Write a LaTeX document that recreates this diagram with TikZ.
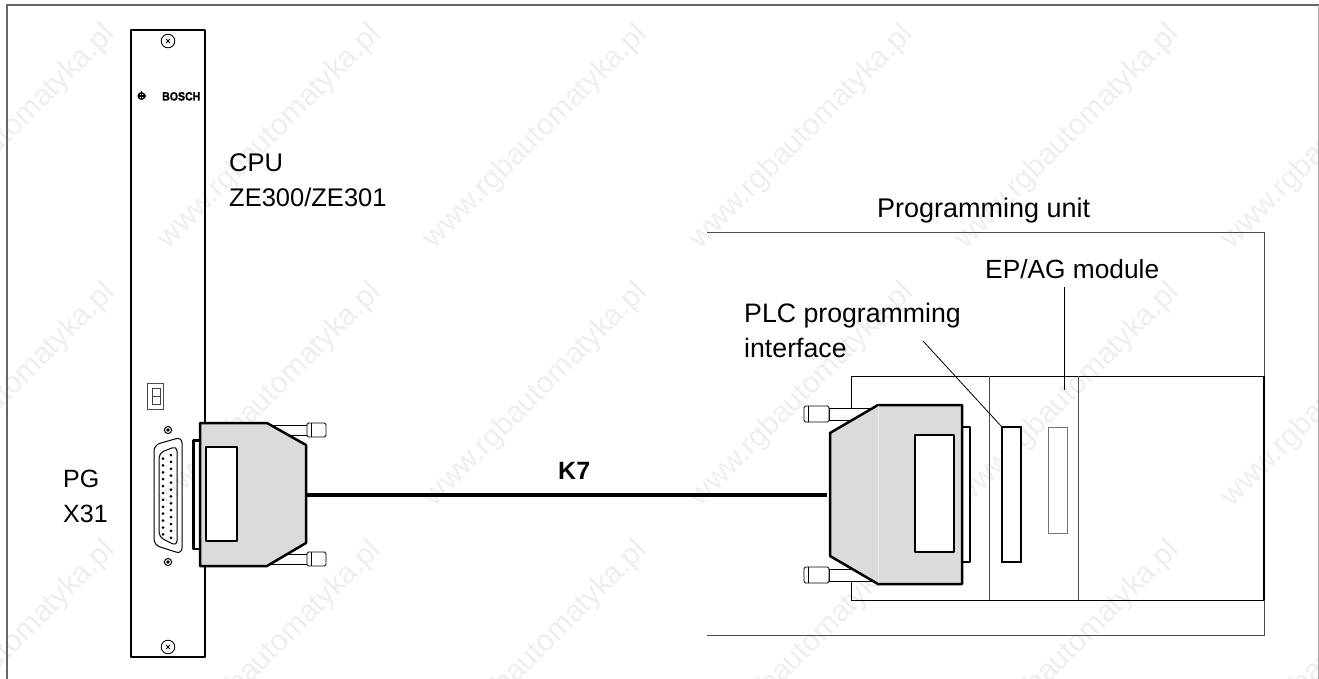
\documentclass[tikz,border=0pt]{standalone}
\usepackage{fontspec}
\setmainfont{Liberation Sans}
\newfontfamily\boschfont[FakeBold=1.5]{Liberation Sans Bold}
\usepackage{xcolor}
\usetikzlibrary{positioning}
\definecolor{shellgray}{gray}{.86}
\definecolor{markgray}{gray}{.935}
\tikzset{
  lbl/.style={font=\fontsize{#1}{35}\selectfont,anchor=base west,inner sep=0pt,align=left},
  lbl/.default=26,
  mark text/.style={font=\fontsize{30}{30}\selectfont,text=markgray,rotate=45,inner sep=0pt},
  heavy/.style={line width=2.5pt,line join=round},
  thin gray/.style={line width=1pt,black!70},
  slotbox/.style={draw,fill=white,inner sep=0pt},
  leader/.style={line width=.8pt},
}
\begin{document}
\begin{tikzpicture}[x=1pt,y=-1pt]
\useasboundingbox (0,0) rectangle (1319,679);
\foreach \col in {4,270,536,802,1068,1334}{
  \foreach \row in {137,395,653}{
    \node[mark text] at (\col,\row) {www.rgbautomatyka.pl};
  }
}
% frame
\draw[line width=2pt,black!60] (7,679) -- (7,5) -- (1319,5);
\draw[line width=1pt,black!35] (1318.5,5) -- (1318.5,679);
% CPU panel
\draw[heavy] (131,30) rectangle (205,657);
\foreach \y in {41,647}{
  \draw[line width=.9pt] (168,\y) circle (6.8);
  \draw[line width=1pt] (166,\y-2) -- (170,\y+2) (166,\y+2) -- (170,\y-2);
}
\node[font=\fontsize{12}{12}\boschfont,xscale=.88,anchor=base west,inner sep=0pt] (bosch) at (162,100.5) {BOSCH};
\draw[line width=1.5pt] (141.5,96) circle (3.2);
\draw[line width=1.2pt] (137.5,96) -- (145.5,96) (141.5,91.5) -- (141.5,100.5);
% display
\draw[thin gray] (147.5,383.5) rectangle (163.5,409);
\draw[line width=.8pt,black!75] (152,388) rectangle (160,404) (152,396) -- (160,396);
% sub-D socket
\draw[line width=1pt,rounded corners=6pt] (154,445) -- (182,437) -- (182,554) -- (154,545) -- cycle;
\draw[line width=1pt,rounded corners=5pt] (159,453) -- (177,446) -- (177,546) -- (159,537) -- cycle;
\foreach \n in {0,...,11}{
  \fill (163,458.5+\n*6.9) circle (1.5);
}
\foreach \n in {0,...,12}{
  \fill (171,455+\n*6.9) circle (1.5);
}
\foreach \y in {430,562}{
  \draw[line width=1pt] (168,\y) circle (3.6);
  \fill (168,\y) circle (1.8);
}
% left plug
\foreach \y in {430,559}{
  \draw[line width=.8pt,fill=white] (262,\y-5) rectangle (307,\y+5);
  \draw[line width=.9pt,fill=white,rounded corners=1.5pt] (307,\y-7) rectangle (326,\y+7);
  \draw[line width=.6pt] (311,\y-7) -- (311,\y+7);
}
\draw[heavy,fill=white] (193.5,440.5) rectangle (200,549);
\draw[heavy,fill=shellgray] (200,423) -- (267,423) -- (306,445) -- (306,543) -- (267,566) -- (200,566) -- cycle;
\draw[heavy,fill=white] (206,447) rectangle (237,541);
% programming unit
\draw[thin gray] (707,232) -- (1264,232) -- (1264,635) -- (707,635);
\draw[line width=1pt] (851,600) -- (851,376) -- (1264,376);
\draw[line width=1pt] (851,600) -- (1264,600);
\draw[line width=1.6pt] (1264,376) -- (1264,600);
\draw[thin gray] (989,376) -- (989,600) (1078,376) -- (1078,600);
\node[slotbox,line width=2pt,minimum width=19pt,minimum height=135pt] (plcslot) at (1011.5,494.5) {};
\node[slotbox,draw=black!55,line width=1pt,minimum width=19pt,minimum height=106pt] (epslot) at (1057.5,480) {};
% right plug
\foreach \y in {414,575}{
  \draw[line width=.8pt,fill=white] (829,\y-6) rectangle (880,\y+6);
  \draw[line width=.9pt,fill=white,rounded corners=1.5pt] (804,\y-8) rectangle (829,\y+8);
  \draw[line width=.6pt] (808,\y-8) -- (808,\y+8);
}
\draw[heavy,fill=white] (962,427) rectangle (970,562);
\draw[heavy,fill=shellgray] (830,433) -- (878,405) -- (962,405) -- (962,584) -- (878,584) -- (830,556) -- cycle;
\draw[line width=.5pt,white!92!black] (878,406) -- (878,583);
\draw[heavy,fill=white] (915,435) rectangle (954,552);
% cable
\coordinate (cableleft) at (306,495);
\coordinate (cableright) at (827,495);
\draw[line width=3.4pt] (cableleft) -- (cableright);
% labels
\node[lbl=25.5] (cpulabel) at (229,207) {CPU\\ZE300/ZE301};
\node[lbl=25] (pglabel) at (63,522) {PG\\X31};
\node[lbl,font=\fontsize{25}{35}\bfseries] (cablelabel) at (558,479) {K7};
\node[lbl=27] (unitlabel) at (877,217) {Programming unit};
\node[lbl=26.3] (modlabel) at (985,278) {EP/AG module};
\node[lbl=26.7] (plclabel) at (744,357) {PLC programming\\interface};
% leaders
\coordinate (plcstart) at (923,341);
\coordinate (epstart) at (1064,287);
\coordinate (epend) at (1064,390);
\draw[leader] (plcstart) -- (plcslot.north west);
\draw[leader] (epstart) -- (epend);
\end{tikzpicture}
\end{document}
